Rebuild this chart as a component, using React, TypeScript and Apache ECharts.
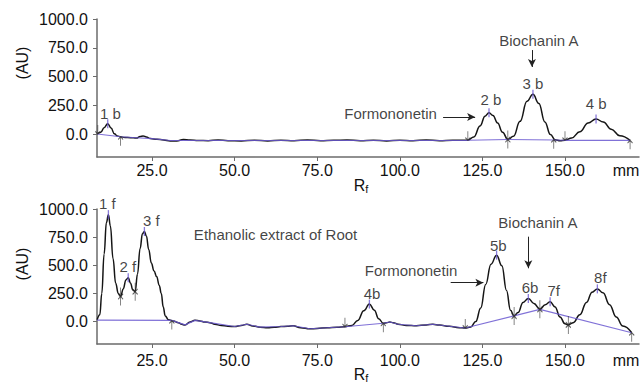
import React, { useEffect, useRef } from "react";
import * as echarts from "echarts";

// ---- data (Rf in mm, absorbance in AU) ----
const xTicks = [25, 50, 75, 100, 125, 150];
const yTicks = [0, 250, 500, 750, 1000];

const topTrace: [number, number][] = [
  [8.4, 0], [9.5, 15], [10.5, 55], [11.6, 90], [12.6, 52], [13.6, 2], [14.5, -18], [15.5, -24],
  [16.8, -30], [18.5, -32], [20.3, -35], [21.4, -22], [22.3, -17], [23.3, -25], [24.5, -40],
  [26.5, -45], [28.5, -52], [30.5, -60], [32.5, -60], [34.5, -48], [36.5, -52], [39, -56],
  [42, -58], [45, -52], [48, -58], [52, -60], [56, -55], [60, -60], [64, -54], [68, -58],
  [72, -52], [76, -58], [80, -55], [84, -52], [88, -58], [92, -55], [96, -60], [100, -54],
  [104, -58], [108, -52], [112, -58], [116, -55], [120.6, -55], [122.4, -25], [124.3, 70],
  [125.8, 155], [127, 185], [128.2, 160], [129.6, 95], [131.1, 15], [132.7, -48], [134.4, -20],
  [136.4, 110], [138.5, 285], [140.3, 345], [142.1, 265], [143.9, 105], [145.6, -5], [147, -50],
  [148.5, -58], [150, -55], [152, -35], [154.5, 20], [157, 95], [159.4, 130], [161.6, 105],
  [164, 42], [166.6, -15], [169.7, -55],
];
const topBaseline: [number, number][] = [
  [8.4, 0], [15.5, -24], [20.3, -32], [25, -40], [30.5, -57], [120.6, -55], [132.7, -48],
  [147, -52], [150, -55], [169.7, -55],
];

const bottomTrace: [number, number][] = [
  [8.4, 15], [9.2, 60], [9.8, 250], [10.5, 600], [11.2, 880], [11.8, 950], [12.4, 850],
  [13.2, 560], [14, 340], [14.8, 250], [15.5, 222], [16.3, 290], [17.1, 370], [17.8, 390],
  [18.5, 340], [19.2, 280], [19.9, 265], [20.6, 420], [21.4, 650], [22.1, 780], [22.7, 800],
  [23.3, 760], [24, 640], [24.8, 520], [25.6, 450], [26.4, 400], [27.2, 320], [27.8, 250],
  [28.4, 130], [29, 50], [30, 15], [31.5, 5], [33, -10], [34, -25], [35, -32], [36.5, -5],
  [38, 12], [39.5, 5], [41, -5], [42.5, -10], [44, -25], [46, -35], [48, -42], [50, -45],
  [52, -35], [53.7, -25], [55.5, -40], [57.7, -50], [60, -55], [62, -52], [64, -45],
  [66, -42], [67.7, -38], [70, -55], [72.8, -65], [75, -62], [78, -55], [81, -50],
  [83.4, -46], [85.5, -35], [87.3, 10], [89.1, 95], [90.8, 155], [92.3, 100], [93.6, 25],
  [95, -16], [96, -10], [97, -5], [98, -10], [99.5, -25], [102, -35], [105, -38], [108, -30],
  [110, -25], [112, -32], [115, -42], [118, -55], [119.8, -58], [121.5, -48], [123, 0],
  [124.5, 120], [126, 330], [127.6, 510], [129.3, 590], [130.9, 495], [132.3, 275],
  [133.5, 100], [134.6, 48], [135.8, 80], [137.3, 170], [138.9, 205], [140.6, 160],
  [142.4, 108], [144, 150], [145.5, 175], [147, 130], [148.5, 40], [150, -20], [151, -30],
  [152.5, -10], [154.5, 60], [156.5, 170], [158.2, 260], [159.8, 290], [161.5, 255],
  [163.5, 150], [165.5, 40], [167.5, -40], [170.2, -100],
];
const bottomBaseline: [number, number][] = [
  [8.4, 12], [31, 10], [33, -10], [35, -30], [38, 10], [42.5, -10], [50, -45], [53.7, -25],
  [57.7, -50], [64, -45], [67.7, -38], [72.8, -65], [78, -55], [83.4, -46], [95, -16],
  [97, -5], [99.5, -25], [105, -38], [110, -25], [115, -42], [119.8, -58], [142.4, 108],
  [170.2, -100],
];

const topPeaks: [number, number][] = [[11.6, 90], [127, 185], [140.3, 345], [159.4, 130]];
const bottomPeaks: [number, number][] = [
  [11.8, 950], [17.8, 390], [22.7, 800], [90.8, 155], [129.3, 590], [138.9, 205], [145.5, 175], [159.8, 290],
];
const topDownMarks: [number, number][] = [[8.6, 0], [120.6, -55], [132.7, -48], [150, -55]];
const topUpMarks: [number, number][] = [[15.5, -24], [132.7, -48], [146.6, -50], [169.7, -55]];
const bottomDownMarks: [number, number][] = [[15.5, 222], [19.9, 265], [83.4, -46], [119.8, -58], [134.6, 48], [142.4, 108], [151, -30]];
const bottomUpMarks: [number, number][] = [[15.5, 222], [19.9, 265], [31, 8], [95, -16], [134.6, 48], [142.4, 108], [151, -30], [170.2, -100]];

type Note = { text: string; at: [number, number] };
const topNotes: Note[] = [
  { text: "1 b", at: [12.4, 174] },
  { text: "2 b", at: [127.6, 296] },
  { text: "3 b", at: [140.3, 443] },
  { text: "4 b", at: [159.4, 261] },
  { text: "Biochanin A", at: [142.1, 809] },
  { text: "Formononetin", at: [97.2, 174] },
];
const bottomNotes: Note[] = [
  { text: "1 f", at: [11.5, 1050] },
  { text: "2 f", at: [17.7, 493] },
  { text: "3 f", at: [24.8, 902] },
  { text: "Ethanolic extract of Root", at: [62.4, 769] },
  { text: "4b", at: [91.6, 250] },
  { text: "Formononetin", at: [103.4, 449] },
  { text: "5b", at: [129.8, 680] },
  { text: "Biochanin A", at: [141.8, 882] },
  { text: "6b", at: [139.4, 300] },
  { text: "7f", at: [146.6, 280] },
  { text: "8f", at: [160.7, 393] },
];
const topArrows: [[number, number], [number, number]][] = [
  [[140, 730], [140, 583]],
  [[113.1, 148], [122.8, 148]],
];
const bottomArrows: [[number, number], [number, number]][] = [
  [[138.9, 754], [138.9, 473]],
  [[115.4, 345], [125.3, 345]],
];

const FONT = "'Liberation Sans', Arial, Helvetica, sans-serif";
const TEXT = "#111";
const X_MIN = 8.35;
const X_MAX = 172.4;
const MM_POS = 168.5;

function xAxisOf(i: number, margin: number) {
  return {
    type: "value",
    gridIndex: i,
    min: X_MIN,
    max: X_MAX,
    axisLine: { show: true, onZero: false, lineStyle: { color: "#6b6b6b", width: 1.5 } },
    axisTick: { show: true, length: 4, customValues: xTicks, lineStyle: { color: "#6b6b6b" } },
    axisLabel: {
      show: true,
      customValues: [...xTicks, MM_POS],
      formatter: (v: number) => (v > 160 ? "mm" : v.toFixed(1)),
      fontSize: 16,
      fontFamily: FONT,
      color: TEXT,
      margin,
    },
    splitLine: { show: false },
  };
}
function yAxisOf(i: number) {
  return {
    type: "value",
    gridIndex: i,
    min: -200,
    max: 1000,
    axisLine: { show: true, onZero: false, lineStyle: { color: "#6b6b6b", width: 1.5 } },
    axisTick: { show: true, length: 4, customValues: yTicks, lineStyle: { color: "#6b6b6b" } },
    axisLabel: {
      show: true,
      customValues: yTicks,
      formatter: (v: number) => v.toFixed(1),
      fontSize: 16,
      fontFamily: FONT,
      color: TEXT,
      margin: 9,
    },
    splitLine: { show: false },
  };
}

function panelSeries(
  i: number,
  trace: [number, number][],
  base: [number, number][],
  peaks: [number, number][],
  down: [number, number][],
  up: [number, number][],
  notes: Note[],
  arrows: [[number, number], [number, number]][]
) {
  const arrowPath = "path://M4,0L4,10M1,7L4,10L7,7";
  return [
    {
      type: "line", xAxisIndex: i, yAxisIndex: i, data: trace, showSymbol: false, symbol: "none",
      smooth: 0.45, smoothMonotone: "x", lineStyle: { color: "#151515", width: 1.5 }, z: 2, silent: true,
    },
    {
      type: "line", xAxisIndex: i, yAxisIndex: i, data: base, showSymbol: false, symbol: "none",
      lineStyle: { color: "#6a58d0", width: 1.1, opacity: 0.85 }, z: 3, silent: true,
    },
    {
      type: "scatter", xAxisIndex: i, yAxisIndex: i, data: peaks, symbol: "rect", symbolSize: [1.3, 9],
      itemStyle: { color: "#6a58d0" }, z: 4, silent: true,
    },
    {
      type: "scatter", xAxisIndex: i, yAxisIndex: i, data: down, symbol: arrowPath, symbolSize: [5, 9],
      symbolOffset: [0, -4.5], itemStyle: { color: "none", borderColor: "#333", borderWidth: 1 }, z: 4, silent: true,
    },
    {
      type: "scatter", xAxisIndex: i, yAxisIndex: i, data: up, symbol: arrowPath, symbolSize: [5, 9],
      symbolRotate: 180, symbolOffset: [0, 4.5], itemStyle: { color: "none", borderColor: "#333", borderWidth: 1 }, z: 4, silent: true,
    },
    {
      type: "scatter", xAxisIndex: i, yAxisIndex: i, clip: false, symbolSize: 1,
      itemStyle: { color: "rgba(0,0,0,0)" }, z: 5, silent: true,
      data: notes.map((n) => ({ value: n.at, label: { formatter: n.text } })),
      label: { show: true, position: "inside", fontSize: 15, fontFamily: FONT, color: TEXT },
      markLine: {
        silent: true, symbol: ["none", "arrow"], symbolSize: [6, 8], label: { show: false },
        lineStyle: { color: "#222", width: 1, type: "solid" },
        data: arrows.map((a) => [{ coord: a[0] }, { coord: a[1] }]),
      },
    },
  ];
}

export default function App() {
  const ref = useRef<HTMLDivElement>(null);
  useEffect(() => {
    if (!ref.current) return;
    const chart = echarts.init(ref.current, undefined, { renderer: "svg" });
    const rf = (x: number, y: number) => ({
      type: "text", x, y,
      style: {
        text: "{r|R}{f|f}",
        align: "center", verticalAlign: "middle", fill: TEXT,
        rich: {
          r: { fontSize: 16, fontFamily: FONT, fill: TEXT },
          f: { fontSize: 11, fontFamily: FONT, fill: TEXT, padding: [7, 0, 0, 0] },
        },
      },
    });
    const au = (x: number, y: number) => ({
      type: "text", x, y, rotation: Math.PI / 2,
      style: { text: "(AU)", fontSize: 16, fontFamily: FONT, fill: TEXT, align: "center", verticalAlign: "middle" },
    });
    chart.setOption({
      animation: false,
      backgroundColor: "#ffffff",
      grid: [
        { left: 97, top: 19, width: 542, height: 138 },
        { left: 97, top: 209, width: 542, height: 135 },
      ],
      xAxis: [xAxisOf(0, 5), xAxisOf(1, 8)],
      yAxis: [yAxisOf(0), yAxisOf(1)],
      graphic: [au(22, 63), au(22, 264), rf(361, 185), rf(361, 374)],
      series: [
        ...panelSeries(0, topTrace, topBaseline, topPeaks, topDownMarks, topUpMarks, topNotes, topArrows),
        ...panelSeries(1, bottomTrace, bottomBaseline, bottomPeaks, bottomDownMarks, bottomUpMarks, bottomNotes, bottomArrows),
      ],
    } as any);
    return () => chart.dispose();
  }, []);
  return (
    <div
      ref={ref}
      style={{ position: "fixed", left: 0, top: 0, width: 643, height: 385, background: "#fff" }}
    />
  );
}
